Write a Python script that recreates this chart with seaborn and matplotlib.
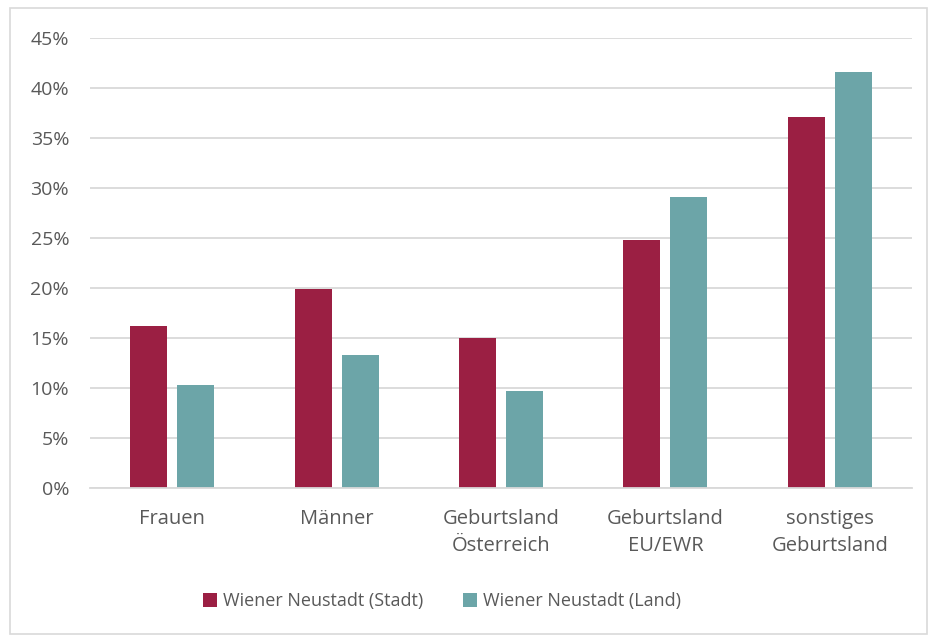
import numpy as np
import pandas as pd
import matplotlib
matplotlib.use("Agg")
import matplotlib.pyplot as plt
import seaborn as sns
from matplotlib.patches import Rectangle
from matplotlib.ticker import PercentFormatter

categories = ["Frauen", "Männer", "Geburtsland\nÖsterreich", "Geburtsland\nEU/EWR",
              "sonstiges\nGeburtsland"]
series = ["Wiener Neustadt (Stadt)", "Wiener Neustadt (Land)"]
stadt = [16.2, 19.9, 15.0, 24.8, 37.1]
land = [10.3, 13.3, 9.7, 29.1, 41.6]
yticks = [0, 5, 10, 15, 20, 25, 30, 35, 40, 45]

colors = ["#9b1f43", "#6ca5a8"]
text_color = "#595959"
grid_color = "#d9d9d9"

data = pd.DataFrame({
    "Kategorie": categories * 2,
    "Serie": [series[0]] * len(categories) + [series[1]] * len(categories),
    "Wert": stadt + land,
})

sns.set_theme(style="white")
plt.rcParams["font.family"] = ["Open Sans", "DejaVu Sans"]

fig = plt.figure(figsize=(9.29, 6.37), dpi=100)
ax = fig.add_axes([0.0969, 0.2339, 0.8848, 0.7064])

sns.barplot(data=data, x="Kategorie", y="Wert", hue="Serie", order=categories,
            hue_order=series, palette=colors, width=0.572, gap=0.213,
            saturation=1, ax=ax, legend=True, edgecolor="none")

ax.set_ylim(0, 45)
ax.set_yticks(yticks)
ax.yaxis.set_major_formatter(PercentFormatter(decimals=0))
ax.set_xlim(-0.5, len(categories) - 0.5)
ax.set_xlabel("")
ax.set_ylabel("")
ax.grid(axis="y", color=grid_color, linewidth=1.3)
ax.set_axisbelow(True)
for s in ["top", "right", "left"]:
    ax.spines[s].set_visible(False)
ax.spines["bottom"].set_color(grid_color)
ax.spines["bottom"].set_linewidth(1.3)
ax.tick_params(axis="both", length=0, colors=text_color)
ax.tick_params(axis="y", pad=15, labelsize=14)
ax.tick_params(axis="x", pad=15, labelsize=14.5)
for lbl in ax.get_xticklabels():
    lbl.set_linespacing(1.45)

handles, labels = ax.get_legend_handles_labels()
ax.get_legend().remove()
fig.legend(handles, labels, loc="center", bbox_to_anchor=(0.476, 0.056), ncol=2,
           frameon=False, fontsize=13, labelcolor=text_color, handlelength=0.75,
           handleheight=0.75, handletextpad=0.35, columnspacing=2.2)

fig.patches.append(Rectangle((0.011, 0.005), 0.987, 0.983, transform=fig.transFigure,
                             fill=False, edgecolor="#d9d9d9", linewidth=1.2))

fig.savefig("out.png", dpi=100)
